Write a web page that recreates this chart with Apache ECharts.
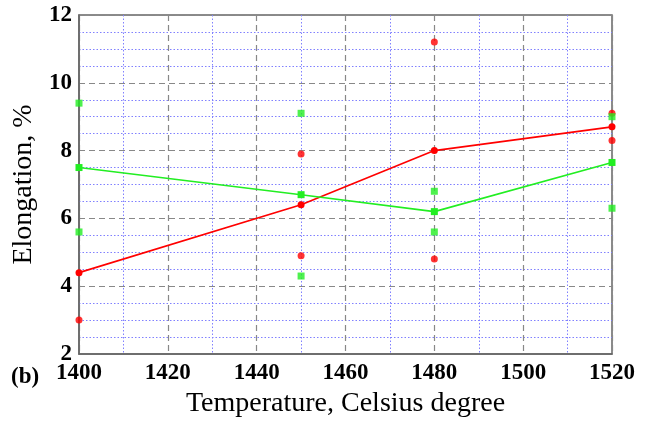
<!DOCTYPE html>
<html>
<head>
<meta charset="utf-8">
<script src="https://cdn.jsdelivr.net/npm/echarts@6/dist/echarts.min.js"></script>
<style>
  html, body { margin: 0; padding: 0; background: #fff; }
  #main { width: 649px; height: 423px; }
</style>
</head>
<body>
<div id="main"></div>
<script>
// mean values (lines)
var temps = [1400, 1450, 1480, 1520];
var redMean = [4.4, 6.4, 8.0, 8.7];
var greenMean = [7.5, 6.7, 6.2, 7.65];

// scatter (individual samples)
var redPts = [[1400, 3.0], [1450, 7.9], [1450, 4.9], [1480, 11.2], [1480, 4.8], [1520, 9.1], [1520, 8.3]];
var greenPts = [[1400, 9.4], [1400, 5.6], [1450, 9.1], [1450, 4.3], [1480, 6.8], [1480, 5.6], [1520, 9.0], [1520, 6.3]];

var pair = function (xs, ys) {
    return xs.map(function (x, i) { return [x, ys[i]]; });
};

var labelFont = {
    fontFamily: 'Liberation Serif',
    fontWeight: 'bold',
    fontSize: 23,
    color: '#000'
};

var option = {
    animation: false,
    grid: {
        left: 79, right: 37, top: 15, bottom: 61,
        show: true,
        borderColor: '#666',
        borderWidth: 1.5
    },
    xAxis: {
        type: 'value',
        min: 1400, max: 1520, interval: 20,
        name: 'Temperature, Celsius degree',
        nameLocation: 'middle',
        nameGap: 36,
        nameTextStyle: { fontFamily: 'Liberation Serif', fontSize: 28, color: '#000' },
        axisLine: { lineStyle: { color: '#666', width: 1.5 } },
        axisTick: { show: false },
        axisLabel: Object.assign({ margin: 8, formatter: function (v) { return String(v); } }, labelFont),
        splitLine: { lineStyle: { color: '#888', type: [6, 4], width: 1.2 } },
        minorTick: { show: false, splitNumber: 2 },
        minorSplitLine: { show: true, lineStyle: { color: '#8080ff', type: [1.5, 2], width: 1 } }
    },
    yAxis: {
        type: 'value',
        min: 2, max: 12, interval: 2,
        name: 'Elongation, %',
        nameLocation: 'middle',
        nameGap: 40,
        nameTextStyle: { fontFamily: 'Liberation Serif', fontSize: 28, color: '#000' },
        axisLine: { lineStyle: { color: '#666', width: 1.5 } },
        axisTick: { show: false },
        axisLabel: Object.assign({ margin: 7 }, labelFont),
        splitLine: { lineStyle: { color: '#888', type: [6, 4], width: 1.2 } },
        minorTick: { show: false, splitNumber: 4 },
        minorSplitLine: { show: true, lineStyle: { color: '#8080ff', type: [1.5, 2], width: 1 } }
    },
    graphic: [{
        type: 'text',
        left: 11,
        top: 366,
        style: { text: '(b)', font: 'bold 23px "Liberation Serif"', fill: '#000' }
    }],
    series: [
        {
            type: 'line',
            data: pair(temps, redMean),
            symbol: 'circle', symbolSize: 7,
            itemStyle: { color: '#ff0000' },
            lineStyle: { color: '#ff0000', width: 1.6 },
            z: 3
        },
        {
            type: 'line',
            data: pair(temps, greenMean),
            symbol: 'rect', symbolSize: 7,
            itemStyle: { color: '#22ee22' },
            lineStyle: { color: '#22ee22', width: 1.6 },
            z: 3
        },
        {
            type: 'scatter',
            data: redPts,
            symbol: 'circle', symbolSize: 7,
            itemStyle: { color: '#ff0000' },
            z: 4
        },
        {
            type: 'scatter',
            data: greenPts,
            symbol: 'rect', symbolSize: 7,
            itemStyle: { color: '#22ee22' },
            z: 4
        }
    ]
};

var myChart = echarts.init(document.getElementById('main'));
myChart.setOption(option);
</script>
</body>
</html>
